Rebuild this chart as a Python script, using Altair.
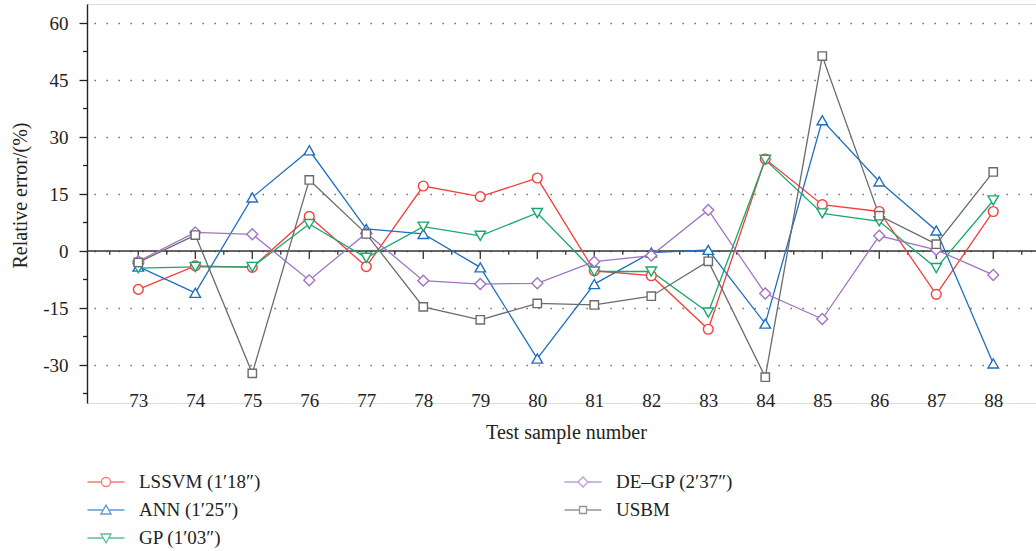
import altair as alt
import pandas as pd

# Test samples and relative errors (%) of each model
samples = list(range(73, 89))
lssvm = [-10.1, -3.9, -4.3, 9.1, -4.1, 17.1, 14.3, 19.2, -5.2, -6.5, -20.6, 24.2, 12.2, 10.4, -11.4, 10.4]
ann = [-4.1, -11.0, 14.1, 26.5, 5.8, 4.5, -4.3, -28.3, -8.7, -0.4, 0.3, -19.1, 34.4, 18.3, 5.4, -29.6]
gp = [-4.5, -4.2, -4.2, 7.1, -1.8, 6.4, 4.0, 10.0, -5.4, -5.4, -16.2, 24.0, 9.9, 7.8, -4.5, 13.3]
de_gp = [-2.7, 4.9, 4.4, -7.7, 4.7, -7.8, -8.7, -8.5, -2.8, -1.2, 10.8, -11.2, -17.9, 4.0, 0.3, -6.3]
usbm = [-3.0, 4.2, -32.2, 18.7, 4.5, -14.7, -18.1, -13.8, -14.2, -11.9, -2.7, -33.2, 51.3, 9.3, 1.8, 20.8]

names = ["LSSVM (1′18″)", "ANN (1′25″)", "GP (1′03″)", "DE–GP (2′37″)", "USBM"]
colors = ["#f2403c", "#1f6fc1", "#16a86c", "#a074c4", "#6b6b6b"]
shapes = ["circle", "triangle-up", "triangle-down", "diamond", "square"]
sizes = [95, 110, 110, 120, 70]

# legend glyphs: marker with a short line on both sides (unit box scaled by symbol size)
legend_paths = [
    "M-1.85,0H-0.45M0.45,0H1.85M0.45,0A0.45,0.45,0,1,1,-0.45,0A0.45,0.45,0,1,1,0.45,0",
    "M-1.85,0H-0.28M0.28,0H1.85M0,-0.5L0.5,0.4L-0.5,0.4Z",
    "M-1.85,0H-0.28M0.28,0H1.85M0,0.5L0.5,-0.4L-0.5,-0.4Z",
    "M-1.85,0H-0.5M0.5,0H1.85M0,-0.5L0.5,0L0,0.5L-0.5,0Z",
    "M-1.85,0H-0.35M0.35,0H1.85M-0.35,-0.35H0.35V0.35H-0.35Z",
]

y_major = [-30, -15, 0, 15, 30, 45, 60]
y_minor = [-37.5, -22.5, -7.5, 7.5, 22.5, 37.5, 52.5]
x_minor = [72.5 + i for i in range(17)]

FONT = "Liberation Serif"
W, H = 949, 399

series = [lssvm, ann, gp, de_gp, usbm]
rows = []
for name, vals in zip(names, series):
    for s, v in zip(samples, vals):
        rows.append({"sample": s, "err": v, "model": name})
df = pd.DataFrame(rows)

x_scale = alt.Scale(domain=[72.1, 88.75], nice=False, zero=False)
y_scale = alt.Scale(domain=[-40, 65], nice=False, zero=False)

x_enc = alt.X(
    "sample:Q",
    scale=x_scale,
    axis=alt.Axis(
        values=samples, labelExpr="'' + datum.value", domain=False, ticks=False, grid=False,
        labelFont=FONT, labelFontSize=19, labelColor="#222", labelBaseline="middle",
        labelPadding=-3, title="Test sample number", titleFont=FONT, titleFontSize=20,
        titleFontWeight="normal", titleColor="#222", titleX=479, titleY=29,
        titleBaseline="middle",
    ),
)
y_enc = alt.Y(
    "err:Q",
    scale=y_scale,
    axis=alt.Axis(
        values=y_major, labelExpr="'' + datum.value", tickSize=8, tickWidth=1.3,
        tickColor="#222", domainColor="#222", domainWidth=1.4,
        grid=True, gridDash=[1.3, 10.7], gridDashOffset=-7, gridColor="#555", gridWidth=1.3,
        labelFont=FONT, labelFontSize=19, labelColor="#222", labelPadding=11,
        title="Relative error/(%)", titleFont=FONT, titleFontSize=20,
        titleFontWeight="normal", titleColor="#222", titleAngle=-90,
        titleX=-67, titleY=191, titleBaseline="middle", titleAlign="center",
    ),
)

main_color = alt.Color("model:N", scale=alt.Scale(domain=names, range=colors), legend=None)

lines = alt.Chart(df).mark_line(strokeWidth=1.3, clip=False).encode(
    x=x_enc, y=y_enc, color=main_color, detail="model:N"
)

point_layers = []
for i, name in enumerate(names):
    point_layers.append(
        alt.Chart(df).transform_filter(alt.datum.model == name).mark_point(
            shape=shapes[i], size=sizes[i], filled=True, fill="white",
            stroke=colors[i], strokeWidth=1.4, opacity=1,
        ).encode(x="sample:Q", y="err:Q")
    )

# zero line with ticks hanging below it
zero_df = pd.DataFrame({"z": [0]})
zero_line = alt.Chart(zero_df).mark_rule(color="#333", strokeWidth=1.4).encode(y="z:Q")

xt = pd.DataFrame(
    {"sample": samples + x_minor,
     "top": [0.0] * (len(samples) + len(x_minor)),
     "bot": [-2.1] * len(samples) + [-1.0] * len(x_minor)}
)
x_ticks = alt.Chart(xt).mark_rule(color="#333", strokeWidth=1.3).encode(
    x="sample:Q", y="top:Q", y2="bot:Q"
)

ym = pd.DataFrame({"err": y_minor})
y_minor_ticks = alt.Chart(ym).mark_rule(color="#222", strokeWidth=1.3).encode(
    y="err:Q", x=alt.value(-4), x2=alt.value(0)
)

# legend-only layer (no marks drawn); two columns, filled column by column
legend_props = dict(
    title=None, orient="none", legendX=8, legendY=467, columns=2,
    columnPadding=300, rowPadding=7, symbolSize=400, symbolStrokeWidth=1.3,
    labelFont=FONT, labelFontSize=19, labelColor="#222", labelOffset=22,
    labelLimit=400,
)
legend_layer = alt.Chart(df).transform_filter("datum.sample < 0").mark_point(
    filled=False, strokeWidth=1.3
).encode(
    color=alt.Color(
        "model:N",
        scale=alt.Scale(domain=names, range=colors),
        legend=alt.Legend(**legend_props),
    ),
    shape=alt.Shape(
        "model:N",
        scale=alt.Scale(domain=names, range=legend_paths),
        legend=alt.Legend(**legend_props),
    ),
)

chart = (
    alt.layer(zero_line, x_ticks, y_minor_ticks, lines, *point_layers, legend_layer)
    .resolve_scale(color="independent", shape="independent")
    .properties(
        width=W, height=H,
        autosize=alt.AutoSizeParams(type="none"),
        padding={"left": 87, "top": 4, "right": 0, "bottom": 148},
    )
    .configure_view(stroke=None)
    .configure(background="white")
)

chart.save("out.html", embed_options={"renderer": "svg", "actions": False})
